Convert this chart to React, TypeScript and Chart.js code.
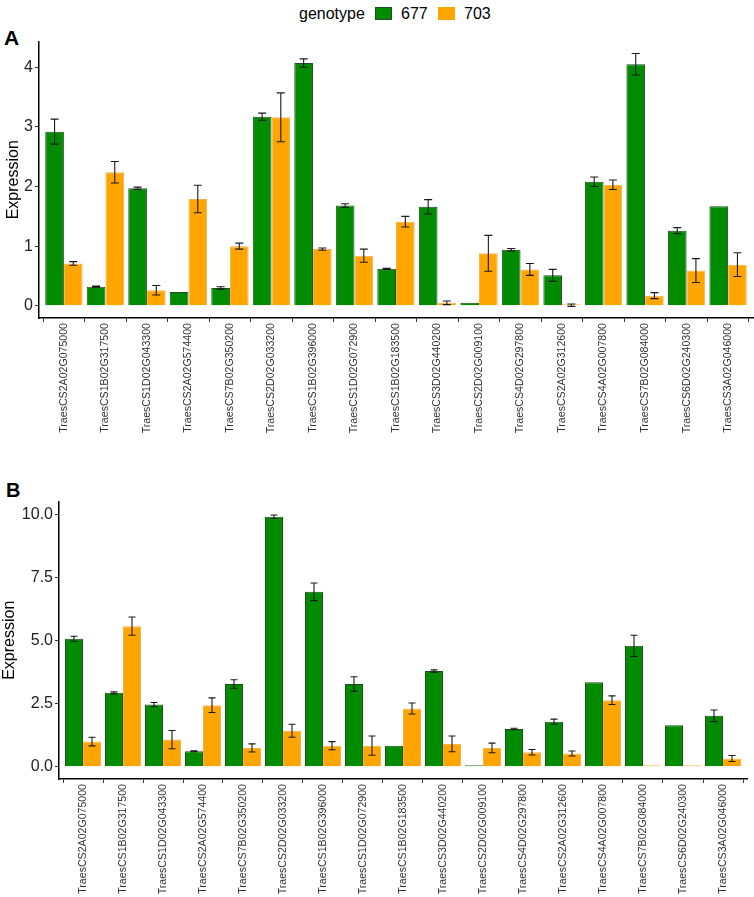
import { useEffect, useRef } from 'react'
import { Chart, registerables } from 'chart.js'

Chart.register(...registerables)

const genes = [
  'TraesCS2A02G075000', 'TraesCS1B02G317500', 'TraesCS1D02G043300', 'TraesCS2A02G574400',
  'TraesCS7B02G350200', 'TraesCS2D02G033200', 'TraesCS1B02G396000', 'TraesCS1D02G072900',
  'TraesCS1B02G183500', 'TraesCS3D02G440200', 'TraesCS2D02G009100', 'TraesCS4D02G297800',
  'TraesCS2A02G312600', 'TraesCS4A02G007800', 'TraesCS7B02G084000', 'TraesCS6D02G240300',
  'TraesCS3A02G046000'
]

// Panel A
const a677 = [2.92, 0.32, 1.97, 0.23, 0.30, 3.17, 4.07, 1.68, 0.62, 1.66, 0.05, 0.94, 0.51, 2.08, 4.05, 1.26, 1.67]
const a677Err = [0.21, 0.01, 0.02, 0, 0.02, 0.06, 0.07, 0.03, 0.01, 0.12, 0, 0.02, 0.1, 0.08, 0.18, 0.05, 0]
const a703 = [0.71, 2.24, 0.26, 1.79, 1.0, 3.16, 0.95, 0.84, 1.41, 0.05, 0.88, 0.61, 0.01, 2.03, 0.17, 0.59, 0.69]
const a703Err = [0.03, 0.18, 0.08, 0.23, 0.05, 0.41, 0.02, 0.11, 0.09, 0.03, 0.3, 0.1, 0.02, 0.08, 0.05, 0.2, 0.2]

// Panel B
const b677 = [5.07, 2.93, 2.47, 0.62, 3.28, 9.9, 6.93, 3.28, 0.84, 3.79, 0.02, 1.5, 1.79, 3.35, 4.79, 1.65, 2.02]
const b677Err = [0.1, 0.04, 0.08, 0.02, 0.17, 0.07, 0.35, 0.29, 0, 0.05, 0, 0.03, 0.1, 0, 0.42, 0, 0.23]
const b703 = [1.0, 5.57, 1.08, 2.44, 0.75, 1.43, 0.84, 0.84, 2.31, 0.91, 0.75, 0.58, 0.53, 2.64, 0.02, 0.02, 0.33]
const b703Err = [0.17, 0.36, 0.36, 0.29, 0.16, 0.26, 0.16, 0.38, 0.22, 0.31, 0.19, 0.11, 0.1, 0.17, 0, 0, 0.12]

const GREEN = '#008B00'
const ORANGE = '#FFA500'
const FONT = '"Liberation Sans", Arial, sans-serif'

// draws mean ± error whiskers on top of each bar
const errorBars = {
  id: 'errorBars',
  afterDatasetsDraw(chart: any, _args: any, opts: any) {
    const { ctx } = chart
    const y = chart.scales.y
    chart.data.datasets.forEach((ds: any, i: number) => {
      const meta = chart.getDatasetMeta(i)
      meta.data.forEach((bar: any, j: number) => {
        const e = ds.errors[j]
        if (!e) return
        const v = ds.data[j].y
        const top = y.getPixelForValue(v + e)
        const bottom = y.getPixelForValue(v - e)
        const half = opts.cap / 2
        ctx.save()
        ctx.strokeStyle = '#1a1a1a'
        ctx.lineWidth = 1.1
        ctx.beginPath()
        ctx.moveTo(bar.x, top)
        ctx.lineTo(bar.x, bottom)
        ctx.moveTo(bar.x - half, top)
        ctx.lineTo(bar.x + half, top)
        ctx.moveTo(bar.x - half, bottom)
        ctx.lineTo(bar.x + half, bottom)
        ctx.stroke()
        ctx.restore()
      })
    })
  }
}

interface PanelProps {
  g: number[]
  gErr: number[]
  o: number[]
  oErr: number[]
  yMin: number
  yMax: number
  step: number
  decimals: number
  axisWidth: number
  axisHeight: number
  padRight: number
  titlePad: number
  cap: number
  width: number
  height: number
}

function Panel(p: PanelProps) {
  const ref = useRef<HTMLCanvasElement>(null)

  useEffect(() => {
    if (!ref.current) return
    const toPoints = (vals: number[]) => vals.map((v, i) => ({ x: i + 1, y: v }))
    const chart = new Chart(ref.current, {
      type: 'bar',
      data: {
        datasets: [
          {
            label: '677',
            data: toPoints(p.g),
            errors: p.gErr,
            backgroundColor: GREEN,
            borderColor: '#1f4f1f',
            borderWidth: 1,
            minBarLength: 1.5,
            categoryPercentage: 0.9,
            barPercentage: 1
          } as any,
          {
            label: '703',
            data: toPoints(p.o),
            errors: p.oErr,
            backgroundColor: ORANGE,
            borderColor: '#f4b44a',
            borderWidth: 1,
            minBarLength: 1.5,
            categoryPercentage: 0.9,
            barPercentage: 1
          } as any
        ]
      },
      options: {
        responsive: false,
        animation: false,
        layout: { padding: { top: 10, right: p.padRight, left: 0, bottom: 0 } },
        plugins: {
          legend: { display: false },
          tooltip: { enabled: false },
          errorBars: { cap: p.cap }
        } as any,
        scales: {
          x: {
            type: 'linear',
            min: 0.4,
            max: 17.6,
            offset: false,
            afterFit: (s: any) => { s.height = p.axisHeight },
            border: { color: '#000', width: 1.5 },
            grid: { drawOnChartArea: false, drawTicks: true, tickLength: 4, color: '#333' },
            ticks: {
              stepSize: 1,
              includeBounds: false,
              autoSkip: false,
              maxRotation: 90,
              minRotation: 90,
              padding: 1,
              color: '#333',
              font: { family: FONT, size: 10.6 },
              callback: (v: any) => (Number.isInteger(v) && v >= 1 && v <= genes.length ? genes[v - 1] : '')
            }
          },
          y: {
            min: p.yMin,
            max: p.yMax,
            afterFit: (s: any) => { s.width = p.axisWidth },
            border: { color: '#000', width: 1.5 },
            grid: { drawOnChartArea: false, drawTicks: true, tickLength: 4, color: '#333' },
            title: {
              display: true,
              text: 'Expression',
              color: '#000',
              padding: { top: p.titlePad, bottom: 0 },
              font: { family: FONT, size: 16 }
            },
            ticks: {
              stepSize: p.step,
              includeBounds: false,
              padding: 2,
              color: '#222',
              font: { family: FONT, size: 16 },
              callback: (v: any) => Number(v).toFixed(p.decimals)
            }
          }
        }
      } as any,
      plugins: [errorBars]
    })
    return () => chart.destroy()
  }, [])

  return <canvas ref={ref} width={p.width} height={p.height} style={{ width: p.width, height: p.height, display: 'block' }} />
}

export default function App() {
  useEffect(() => {
    document.body.style.margin = '0'
  }, [])

  const text = { position: 'absolute' as const, fontFamily: FONT, color: '#000', lineHeight: 1 }

  return (
    <div style={{ position: 'relative', width: 754, height: 897, background: '#fff', overflow: 'hidden' }}>
      {/* legend */}
      <div style={{ ...text, left: 299, top: 6, fontSize: 16 }}>genotype</div>
      <div style={{ position: 'absolute', left: 375, top: 7, width: 17, height: 13, background: GREEN, border: '1px solid #1f4f1f', boxSizing: 'border-box' }} />
      <div style={{ ...text, left: 401, top: 6, fontSize: 16 }}>677</div>
      <div style={{ position: 'absolute', left: 438, top: 7, width: 17, height: 13, background: ORANGE, boxSizing: 'border-box' }} />
      <div style={{ ...text, left: 464, top: 6, fontSize: 16 }}>703</div>

      <div style={{ ...text, left: 4, top: 27, fontSize: 21, fontWeight: 'bold' }}>A</div>
      <div style={{ ...text, left: 6, top: 480, fontSize: 20, fontWeight: 'bold' }}>B</div>

      <div style={{ position: 'absolute', left: 0, top: 30 }}>
        <Panel g={a677} gErr={a677Err} o={a703} oErr={a703Err} yMin={-0.205} yMax={4.43} step={1} decimals={0}
          axisWidth={39} axisHeight={122} padRight={1} titlePad={4} cap={8} width={754} height={410} />
      </div>
      <div style={{ position: 'absolute', left: 0, top: 490 }}>
        <Panel g={b677} gErr={b677Err} o={b703} oErr={b703Err} yMin={-0.48} yMax={10.5} step={2.5} decimals={1}
          axisWidth={59} axisHeight={118} padRight={7} titlePad={0} cap={7} width={754} height={407} />
      </div>
    </div>
  )
}
